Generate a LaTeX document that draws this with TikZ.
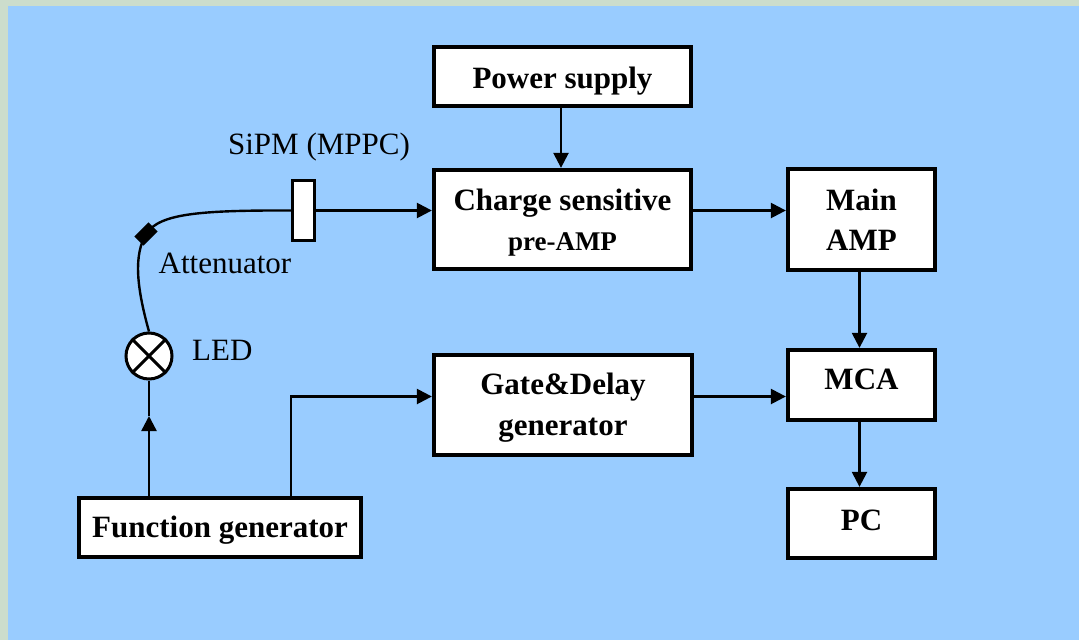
\documentclass[tikz,border=0pt]{standalone}
\usepackage{fontspec}
\setmainfont{Liberation Serif}
\usetikzlibrary{arrows.meta}
\definecolor{framecol}{RGB}{204,221,204}
\definecolor{bgcol}{RGB}{153,204,255}
\begin{document}
\begin{tikzpicture}[x=1pt,y=-1pt,
  box/.style={draw, line width=3.8pt, fill=white, inner sep=0pt, align=center,
    font=\bfseries\fontsize{31}{40}\selectfont},
  conn/.style={line width=2.4pt, -{Triangle[length=15pt,width=15pt]}},
  plain/.style={line width=2.4pt},
  lbl/.style={inner sep=0pt, font=\fontsize{31}{38}\selectfont}]
\fill[framecol] (0,0) rectangle (1079,640);
\fill[bgcol] (8,6) rectangle (1079,640);
\useasboundingbox (0,0) rectangle (1079,640);

% boxes
\node[box, minimum width=257.5pt, minimum height=59.5pt, text height=23pt, text depth=0pt] (power) at (562.5,76.5) {Power supply};
\node[box, minimum width=257.5pt, minimum height=99.5pt] (charge) at (562.5,219.5)
  {\rule{0pt}{27pt}Charge sensitive\\[0pt]{\fontsize{27}{32}\selectfont pre-AMP}};
\node[box, minimum width=147.5pt, minimum height=101.5pt] (main) at (861.5,219.5) {Main\\AMP};
\node[box, minimum width=147.5pt, minimum height=70.5pt, text height=21pt, text depth=13pt] (mca) at (861.5,385) {MCA};
\node[box, minimum width=147.5pt, minimum height=69.5pt, text height=21pt, text depth=8pt] (pc) at (861.5,523.5) {PC};
\node[box, minimum width=258.5pt, minimum height=100.5pt] (gate) at (563,405) {\rule{0pt}{27pt}Gate\&Delay\\[1pt]generator};
\node[box, minimum width=282.5pt, minimum height=59.5pt, text height=21pt, text depth=2pt] (fg) at (220,527.5) {Function generator};

% LED
\node[draw, circle, line width=3pt, fill=white, minimum size=46pt, inner sep=0pt] (led) at (149,356) {};
\draw[line width=3pt] (led.45) -- (led.225) (led.135) -- (led.-45);

% SiPM and attenuator
\coordinate (att) at (146,234);
\coordinate (sipmc) at (303.5,210.5);
\draw[plain] (led.north) .. controls (136,285) and (134,255) .. (att)
  .. controls (160,213) and (200,210) .. (sipmc);
\node[fill=black, minimum width=20pt, minimum height=13pt, inner sep=0pt, rotate=45] (attn) at (att) {};
\node[draw, line width=3.2pt, fill=white, minimum width=22pt, minimum height=60pt, inner sep=0pt] (sipm) at (sipmc) {};

% labels
\node[lbl, anchor=base] (sipmlbl) at (319,154) {SiPM (MPPC)};
\node[lbl, anchor=base] (attlbl) at (225,273) {Attenuator};
\node[lbl, anchor=base west] (ledlbl) at (192,360) {LED};

% connectors
\draw[conn] (sipm.east) -- (sipm.east -| charge.west);
\draw[conn] ([xshift=-1.5pt]power.south) -- ([xshift=-1.5pt]charge.north);
\draw[conn] (charge.east |- sipm.east) -- (main.west |- sipm.east);
\draw[conn] ([xshift=-2pt]main.south) -- ([xshift=-2pt]mca.north);
\draw[conn] ([xshift=-2pt]mca.south) -- ([xshift=-2pt]pc.north);
\coordinate (gy) at (0,396.5);
\draw[conn] (gate.east |- gy) -- (mca.west |- gy);
\coordinate (fgx) at (291,0);
\draw[conn] (fg.north -| fgx) -- (fgx |- gy) -- (gate.west |- gy);
\coordinate (ledarrow) at (149,416);
\draw[conn] (fg.north -| led) -- (ledarrow);
\draw[plain] (ledarrow) -- (led.south);
\end{tikzpicture}
\end{document}
